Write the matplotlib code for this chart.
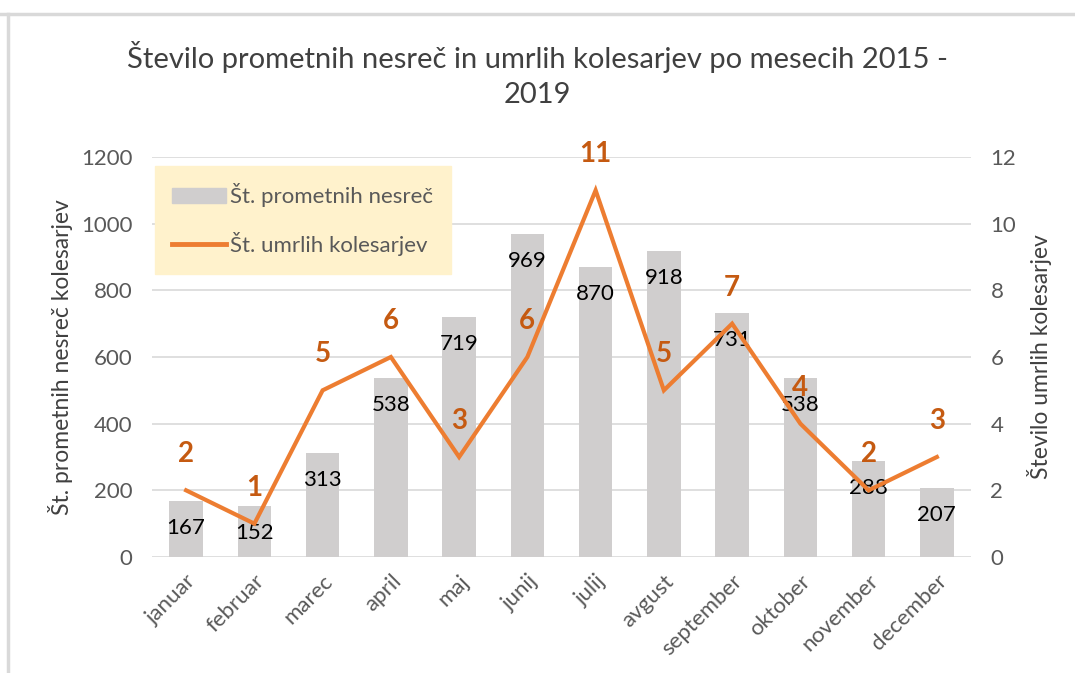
import matplotlib.pyplot as plt
from matplotlib.lines import Line2D

months = ["januar", "februar", "marec", "april", "maj", "junij", "julij",
          "avgust", "september", "oktober", "november", "december"]
accidents = [167, 152, 313, 538, 719, 969, 870, 918, 731, 538, 288, 207]
deaths = [2, 1, 5, 6, 3, 6, 11, 5, 7, 4, 2, 3]

plt.rcParams["font.family"] = ["Lato", "DejaVu Sans"]

BAR = "#d0cece"
LINE = "#ed7d31"
LABEL = "#c55a11"
TXT = "#595959"
GRID = "#d9d9d9"

fig = plt.figure(figsize=(10.75, 6.73), dpi=100)
ax = fig.add_axes([152 / 1075, 1 - 557 / 673, (971 - 152) / 1075, 400 / 673])
ax2 = ax.twinx()

x = list(range(len(months)))
ax.bar(x, accidents, width=0.49, color=BAR, zorder=2)
ax.set_ylim(0, 1200)
ax.set_yticks(range(0, 1201, 200))
ax.set_xlim(-0.5, len(months) - 0.5)
ax.set_xticks(x)
ax.set_xticklabels(months, rotation=45, ha="right", rotation_mode="anchor")
ax.grid(axis="y", color=GRID, linewidth=1.2, zorder=0)
ax.set_axisbelow(True)

for xi, v in zip(x, accidents):
    ax.annotate(str(v), (xi, v), xytext=(0, -27), textcoords="offset pixels",
                ha="center", va="center", fontsize=16, color="black", zorder=3)

ax2.plot(x, deaths, color=LINE, linewidth=3, solid_joinstyle="miter", zorder=4)
ax2.set_ylim(0, 12)
ax2.set_yticks(range(0, 13, 2))
for xi, v in zip(x, deaths):
    ax2.annotate(str(v), (xi, v), xytext=(0, 36), textcoords="offset pixels",
                 ha="center", va="center", fontsize=20, fontweight="bold", color=LABEL)

for a in (ax, ax2):
    for s in a.spines.values():
        s.set_visible(False)
    a.tick_params(length=0, colors=TXT, labelsize=16)
ax.tick_params(axis="x", pad=10)
ax.tick_params(axis="y", pad=14)
ax2.tick_params(axis="y", pad=14)

ax.set_ylabel("Št. prometnih nesreč kolesarjev", fontsize=16.5, color="#404040", labelpad=6)
ax2.set_ylabel("Število umrlih kolesarjev", fontsize=16.5, color="#404040",
               rotation=90, labelpad=8)

fig.text(0.5, 1 - 57 / 673, "Število prometnih nesreč in umrlih kolesarjev po mesecih 2015 -",
         ha="center", va="center", fontsize=21, color="#404040")
fig.text(0.5, 1 - 95 / 673, "2019", ha="center", va="center", fontsize=21, color="#404040")

handles = [plt.Rectangle((0, 0), 1, 1, color=BAR), Line2D([0], [0], color=LINE, linewidth=3.5)]
leg = ax2.legend(handles, ["Št. prometnih nesreč", "Št. umrlih kolesarjev"],
                 loc="upper left", bbox_to_anchor=(-0.005, 0.995), fontsize=16,
                 frameon=True, fancybox=False, facecolor="#fff2cc", edgecolor="#fff2cc",
                 framealpha=1, borderpad=0.8, labelspacing=1.1, handlelength=2.4,
                 handletextpad=0.2, borderaxespad=0.3)
for t in leg.get_texts():
    t.set_color(TXT)

# chart border
fig.add_artist(Line2D([0, 1], [1 - 14 / 673] * 2, color="#d9d9d9", linewidth=2.5,
                      transform=fig.transFigure))
fig.add_artist(Line2D([8 / 1075] * 2, [0, 1 - 14 / 673], color="#d9d9d9", linewidth=2.5,
                      transform=fig.transFigure))

fig.savefig("out.png", dpi=100)
